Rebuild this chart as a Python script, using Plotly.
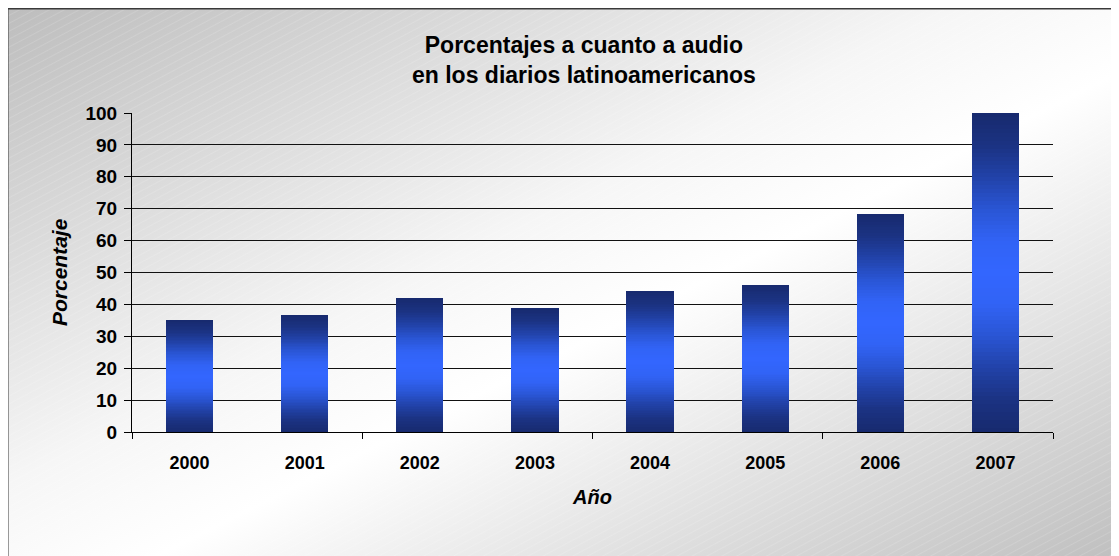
import base64
import plotly.graph_objects as go
from plotly.colors import sample_colorscale

# ---- data ----
years = ["2000", "2001", "2002", "2003", "2004", "2005", "2006", "2007"]
percentages = [35.2, 36.8, 42.1, 39.0, 44.3, 46.2, 68.4, 100.0]
y_ticks = [0, 10, 20, 30, 40, 50, 60, 70, 80, 90, 100]
title_lines = ["Porcentajes a cuanto a audio", "en los diarios latinoamericanos"]
x_title = "Año"
y_title = "Porcentaje"

# the page body adds an 8px margin; figure sized to fill the rest of the window
OFF = 8
W, H = 1119 - OFF, 556 - OFF
L, R, T, B = 132 - OFF, 1119 - 1053, 113 - OFF, 556 - 432
PW, PH = W - L - R, H - T - B

def px_x(px):  # screen px -> paper
    return (px - OFF - L) / PW

def px_y(py):
    return (H - B - (py - OFF)) / PH

FONT = "Liberation Sans, Arial, sans-serif"

# vertical gradient of each bar, bottom (0) -> top (1)
bar_scale = [[0.0, "#172a6e"], [0.1, "#1b3282"], [0.2, "#2142a8"],
             [0.3, "#2a55d4"], [0.4, "#3163f5"], [0.5, "#3366ff"],
             [0.6, "#3163f5"], [0.7, "#2a55d4"], [0.8, "#2142a8"],
             [0.9, "#1b3282"], [1.0, "#172a6e"]]
N = 80
seg_colors = sample_colorscale(bar_scale, [(k + 0.5) / N for k in range(N)])

xs = list(range(len(years)))
fig = go.Figure()
for k in range(N):
    fig.add_trace(go.Bar(
        x=xs, y=[v / N for v in percentages], width=0.41,
        marker=dict(color=seg_colors[k], line=dict(width=0)),
        showlegend=False, hoverinfo="skip", xaxis="x", yaxis="y",
    ))

# invisible trace on the overlay axis for tick marks at every other boundary
fig.add_trace(go.Scatter(x=[-0.5, 7.5], y=[0, 0], mode="markers",
                         marker=dict(opacity=0), showlegend=False,
                         hoverinfo="skip", xaxis="x2", yaxis="y"))

# background gradient image (SVG)
bx0, by0 = 7, 8
bw, bh = 1128, 567
svg = f'''<svg xmlns="http://www.w3.org/2000/svg" width="{bw}" height="{bh}" viewBox="0 0 {bw} {bh}" preserveAspectRatio="none">
<defs>
<linearGradient id="g" x1="0" y1="0" x2="1" y2="1">
<stop offset="0" stop-color="#bdbdbd"/>
<stop offset="0.42" stop-color="#f6f6f6"/>
<stop offset="0.55" stop-color="#ffffff"/>
<stop offset="1" stop-color="#bcbcbc"/>
</linearGradient>
<pattern id="p" width="7" height="7" patternUnits="userSpaceOnUse" patternTransform="rotate(-28)">
<line x1="0" y1="0" x2="7" y2="0" stroke="#ffffff" stroke-width="0.8" stroke-opacity="0.35"/>
</pattern>
</defs>
<rect width="{bw}" height="{bh}" fill="url(#g)"/>
<rect width="{bw}" height="{bh}" fill="url(#p)"/>
</svg>'''
src = "data:image/svg+xml;base64," + base64.b64encode(svg.encode()).decode()

fig.add_layout_image(dict(
    source=src, xref="paper", yref="paper",
    x=px_x(bx0), y=px_y(by0), sizex=bw / PW, sizey=bh / PH,
    xanchor="left", yanchor="top", sizing="stretch", layer="below",
))

fig.add_shape(type="rect", xref="paper", yref="paper",
              x0=px_x(bx0 + 0.75), x1=px_x(bx0 + bw), y0=px_y(by0 + 0.75), y1=px_y(by0 + bh),
              line=dict(color="#3a3a3a", width=1.5), fillcolor="rgba(0,0,0,0)",
              layer="above")

fig.add_annotation(text="<b>" + "<br>".join(title_lines) + "</b>",
                   xref="paper", yref="paper", x=px_x(584), y=px_y(60),
                   xanchor="center", yanchor="middle", showarrow=False,
                   font=dict(family=FONT, size=23, color="black"))
fig.add_annotation(text="<b><i>" + y_title + "</i></b>", textangle=-90,
                   xref="paper", yref="paper", x=px_x(59), y=px_y(272),
                   xanchor="center", yanchor="middle", showarrow=False,
                   font=dict(family=FONT, size=21, color="black"))
fig.add_annotation(text="<b><i>" + x_title + "</i></b>",
                   xref="paper", yref="paper", x=px_x(592), y=px_y(497),
                   xanchor="center", yanchor="middle", showarrow=False,
                   font=dict(family=FONT, size=20, color="black"))

fig.update_layout(
    width=W, height=H, margin=dict(l=L, r=R, t=T, b=B),
    paper_bgcolor="white", plot_bgcolor="rgba(0,0,0,0)",
    barmode="stack", bargap=0,
    font=dict(family=FONT, color="black"),
    xaxis=dict(range=[-0.5, 7.5], tickmode="array", tickvals=xs,
               ticktext=["<b>" + y + "</b>" for y in years], ticks="",
               showgrid=False, zeroline=False, showline=True,
               linecolor="black", linewidth=1,
               tickfont=dict(family=FONT, size=18, color="black"),
               ticklabelstandoff=14, fixedrange=True),
    xaxis2=dict(range=[-0.5, 7.5], overlaying="x", anchor="y", side="bottom",
                tickmode="array", tickvals=[-0.5, 1.5, 3.5, 5.5, 7.5],
                ticks="outside", ticklen=6, tickcolor="black", tickwidth=1,
                showticklabels=False, showgrid=False, zeroline=False,
                showline=False),
    yaxis=dict(range=[0, 100], tickmode="array", tickvals=y_ticks,
               ticktext=["<b>%d</b>" % v for v in y_ticks],
               ticks="outside", ticklen=7, tickcolor="black", tickwidth=1,
               showgrid=True, gridcolor="#111111", gridwidth=1,
               zeroline=False, showline=True, linecolor="black", linewidth=1,
               tickfont=dict(family=FONT, size=19, color="black"),
               ticklabelstandoff=3),
)

fig.write_html("out.html")
